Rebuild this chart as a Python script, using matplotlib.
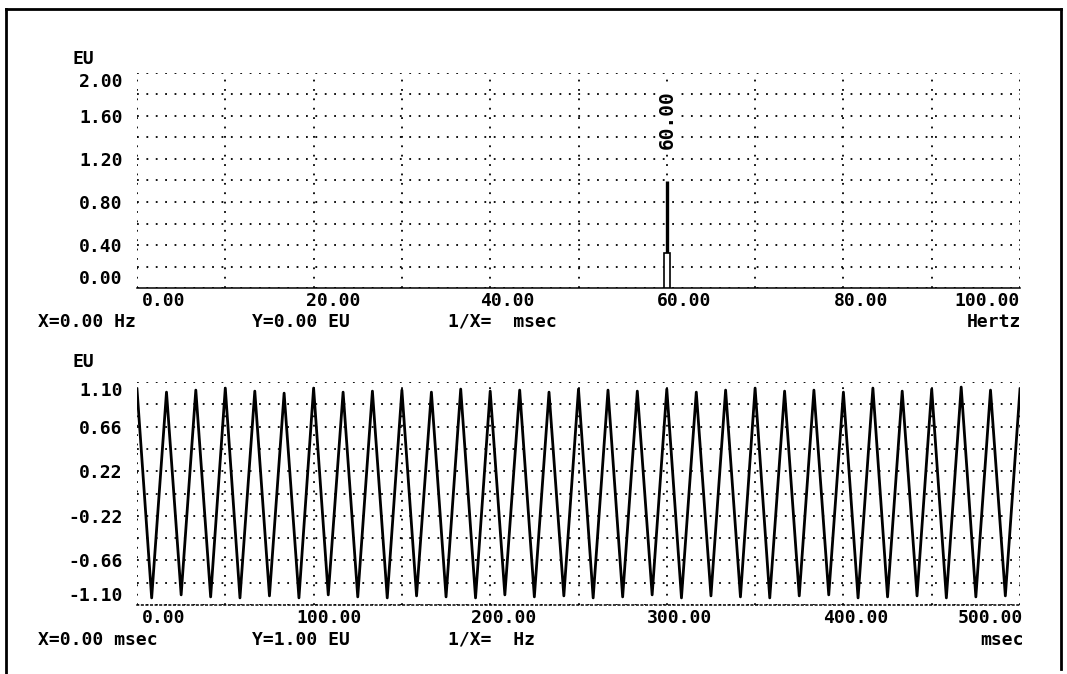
import numpy as np
import matplotlib.pyplot as plt
from matplotlib.lines import Line2D
from matplotlib.transforms import ScaledTranslation

W, H = 1067, 674   # figure size in pixels
DPI = 100

# --- spectrum (top) ---
spec_hz = [60.0]
spec_eu = [1.00]
cursor_eu = 0.33
spec_xticks = [0, 20, 40, 60, 80, 100]
spec_yticks = [0.0, 0.4, 0.8, 1.2, 1.6, 2.0]

# --- time record (bottom): peak and trough samples ---
peak_ms = [0.0, 16.7, 33.3, 50.0, 66.7, 83.3, 100.0, 116.7, 133.3, 150.0, 166.7,
           183.3, 200.0, 216.7, 233.3, 250.0, 266.7, 283.3, 300.0, 316.7, 333.3,
           350.0, 366.7, 383.3, 400.0, 416.7, 433.3, 450.0, 466.7, 483.3, 500.0]
peak_eu = [1.03, 1.00, 1.02, 1.04, 1.01, 0.99, 1.04, 1.00, 1.01, 1.02, 1.00,
           1.03, 1.01, 1.02, 1.00, 1.03, 1.02, 1.01, 1.03, 1.00, 1.02, 1.04,
           1.01, 1.02, 1.00, 1.04, 1.01, 1.03, 1.05, 1.02, 1.03]
trough_ms = [8.3, 25.0, 41.7, 58.3, 75.0, 91.7, 108.3, 125.0, 141.7, 158.3,
             175.0, 191.7, 208.3, 225.0, 241.7, 258.3, 275.0, 291.7, 308.3, 325.0,
             341.7, 358.3, 375.0, 391.7, 408.3, 425.0, 441.7, 458.3, 475.0, 491.7]
trough_eu = [-1.03, -1.00, -1.02, -1.03, -1.01, -1.03, -1.00, -1.02, -1.03, -1.01,
             -1.02, -1.03, -1.00, -1.02, -1.01, -1.03, -1.02, -1.00, -1.03, -1.01,
             -1.02, -1.03, -1.01, -1.00, -1.03, -1.02, -1.01, -1.03, -1.02, -1.01]
time_xticks = [0, 100, 200, 300, 400, 500]
time_yticks = [-1.10, -0.66, -0.22, 0.22, 0.66, 1.10]

t_ms = np.empty(len(peak_ms) + len(trough_ms))
v_eu = np.empty_like(t_ms)
t_ms[0::2], t_ms[1::2] = peak_ms, trough_ms
v_eu[0::2], v_eu[1::2] = peak_eu, trough_eu

FONT = dict(family='DejaVu Sans Mono', weight='bold', size=13)
DOT = (0, (1, 4.2))


def fx(x):
    return x / W


def fy(y):
    return 1 - y / H


def rect(x0, y0, x1, y1):
    return [fx(x0), fy(y1), fx(x1) - fx(x0), fy(y0) - fy(y1)]


def style(ax, xlim, ylim, xmaj, xmin, ymaj, ymin, xoff, bottom_ls):
    ax.set_xlim(*xlim)
    ax.set_ylim(*ylim)
    ax.set_xticks(xmaj)
    ax.set_xticks(xmin, minor=True)
    ax.set_yticks(ymaj)
    ax.set_yticks(ymin, minor=True)
    ax.set_xticklabels(['{:.2f}'.format(v) for v in xmaj], **FONT)
    ax.set_yticklabels(['{:.2f}'.format(v) for v in ymaj], **FONT)
    ax.tick_params(which='both', length=0)
    ax.tick_params(axis='y', pad=10.5)
    ax.tick_params(axis='x', pad=3)
    ax.grid(which='both', color='black', linestyle=DOT, linewidth=1.3)
    for s in ['top', 'left', 'right']:
        ax.spines[s].set_visible(False)
    ax.spines['bottom'].set_linestyle(bottom_ls)
    ax.spines['bottom'].set_linewidth(1.1)
    # shift labels the way the analyser prints them
    for lab, (ha, dx) in zip(ax.get_xticklabels(), xoff):
        lab.set_ha(ha)
        lab.set_transform(lab.get_transform() + ScaledTranslation(dx / DPI, 0, fig.dpi_scale_trans))
    ylabs = ax.get_yticklabels()
    ylabs[0].set_va('bottom')
    ylabs[-1].set_va('top')


fig = plt.figure(figsize=(W / DPI, H / DPI), dpi=DPI)

# spectrum panel
ax1 = fig.add_axes(rect(137, 73, 1020, 288))
style(ax1, (0, 100), (0, 2.0),
      spec_xticks, np.arange(10, 100, 20), spec_yticks, np.arange(0.2, 2.0, 0.4),
      [('left', 5), ('left', -8), ('left', -10), ('left', -10), ('left', -10), ('right', 0)],
      (0, (3, 1)))
ax1.vlines(spec_hz, 0, spec_eu, color='black', linewidth=2.4, zorder=3)
ax1.bar(spec_hz, cursor_eu, width=0.7, facecolor='white', edgecolor='black',
        linewidth=1.2, zorder=4)
for f in spec_hz:
    ax1.text(f, 1.57, '{:.2f}'.format(f), rotation=90, ha='center', va='center',
             family='DejaVu Sans Mono', weight='bold', size=14,
             bbox=dict(facecolor='white', edgecolor='none', pad=0.5), zorder=5)

# time record panel
ax2 = fig.add_axes(rect(137, 382, 1020, 605))
style(ax2, (0, 500), (-1.10, 1.10),
      time_xticks, np.arange(50, 500, 100), time_yticks, np.arange(-0.88, 1.0, 0.44),
      [('left', 5), ('left', -17), ('left', -19), ('left', -20), ('left', -20), ('right', 3)],
      (0, (1, 2)))
ax2.plot(t_ms, v_eu, color='black', linewidth=2.0, zorder=3)

# axis unit labels and readout lines
fig.text(fx(73), fy(59), 'EU', ha='left', va='center', **FONT)
fig.text(fx(73), fy(362), 'EU', ha='left', va='center', **FONT)

row1, row2 = 322, 640
fig.text(fx(38), fy(row1), 'X=0.00 Hz', ha='left', va='center', **FONT)
fig.text(fx(252), fy(row1), 'Y=0.00 EU', ha='left', va='center', **FONT)
fig.text(fx(448), fy(row1), '1/X=  msec', ha='left', va='center', **FONT)
fig.text(fx(1021), fy(row1), 'Hertz', ha='right', va='center', **FONT)

fig.text(fx(38), fy(row2), 'X=0.00 msec', ha='left', va='center', **FONT)
fig.text(fx(252), fy(row2), 'Y=1.00 EU', ha='left', va='center', **FONT)
fig.text(fx(448), fy(row2), '1/X=  Hz', ha='left', va='center', **FONT)
fig.text(fx(1024), fy(row2), 'msec', ha='right', va='center', **FONT)

# outer frame (open at the bottom)
for xs, ys in [([6, 6], [9, 674]), ([6, 1061], [9, 9]), ([1061, 1061], [9, 669])]:
    fig.add_artist(Line2D([fx(v) for v in xs], [fy(v) for v in ys],
                          color='black', linewidth=2))

fig.savefig('out.png', dpi=DPI)
